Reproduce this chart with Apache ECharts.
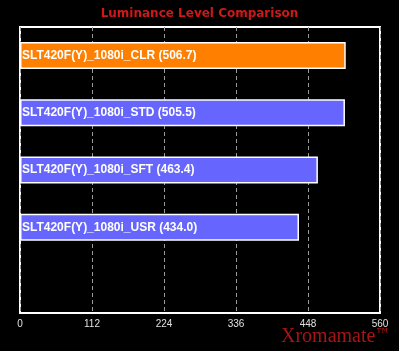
<!DOCTYPE html>
<html>
<head>
<meta charset="utf-8">
<script src="https://cdn.jsdelivr.net/npm/echarts@6/dist/echarts.min.js"></script>
<style>
html,body{margin:0;padding:0;background:#000;}
#c{width:399px;height:351px;}
</style>
</head>
<body>
<div id="c"></div>
<script>
var titleText = 'Luminance Level Comparison';
var categories = ['SLT420F(Y)_1080i_CLR', 'SLT420F(Y)_1080i_STD', 'SLT420F(Y)_1080i_SFT', 'SLT420F(Y)_1080i_USR', ''];
var values = [506.7, 505.5, 463.4, 434.0];
var barColors = ['#FF8000', '#6666FF', '#6666FF', '#6666FF'];
var tickValues = [0, 112, 224, 336, 448, 560];
var watermark = 'Xromamate';
var trademark = '\u2122';

var chart = echarts.init(document.getElementById('c'));
var data = values.map(function (v, i) {
  return { value: v, itemStyle: { color: barColors[i] } };
});
chart.setOption({
  backgroundColor: '#000',
  animation: false,
  title: {
    text: titleText,
    left: 'center',
    top: 3,
    textStyle: { color: '#D01818', fontSize: 12, fontWeight: 'bold', fontFamily: 'DejaVu Sans' }
  },
  grid: {
    left: 20, right: 19, top: 27, bottom: 38,
    show: true, borderColor: '#fff', borderWidth: 2, backgroundColor: 'transparent'
  },
  xAxis: {
    type: 'value',
    min: tickValues[0], max: tickValues[tickValues.length - 1],
    interval: tickValues[1] - tickValues[0],
    axisLine: { show: false },
    axisTick: { show: false },
    axisLabel: { color: '#e0e0e0', fontSize: 10, fontFamily: 'Liberation Sans', margin: 6 },
    splitLine: { show: true, lineStyle: { color: '#999', type: [4, 3], width: 1 } }
  },
  yAxis: {
    type: 'category',
    inverse: true,
    data: categories,
    axisLine: { show: false },
    axisTick: { show: false },
    axisLabel: { show: false },
    splitLine: { show: false }
  },
  series: [{
    type: 'bar',
    data: data,
    barWidth: 27,
    itemStyle: { borderColor: '#fff', borderWidth: 1.5 },
    label: {
      show: true,
      position: 'insideLeft',
      distance: 2,
      color: '#fff',
      fontSize: 12,
      fontWeight: 'bold',
      fontFamily: 'Liberation Sans',
      formatter: function (p) { return p.name + ' (' + p.value.toFixed(1) + ')'; }
    }
  }],
  graphic: [{
    type: 'text',
    x: 281,
    y: 327,
    z: 100,
    style: {
      text: watermark,
      fontFamily: 'Liberation Serif',
      fontSize: 20,
      fill: '#A81414'
    }
  }, {
    type: 'text',
    x: 375,
    y: 328,
    z: 100,
    style: {
      text: trademark,
      fontFamily: 'DejaVu Serif',
      fontSize: 15,
      fill: '#A81414'
    }
  }]
});
</script>
</body>
</html>
